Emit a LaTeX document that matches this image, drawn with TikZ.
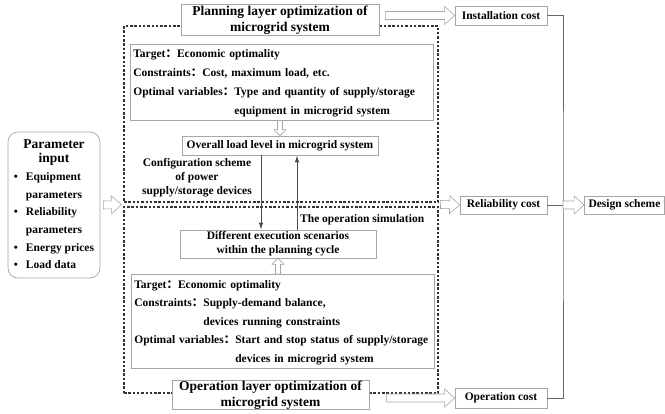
\documentclass[tikz,border=0pt]{standalone}
\usepackage{fontspec}
\setmainfont{Liberation Serif}
\newfontfamily\cjk{Noto Sans CJK SC}
\usetikzlibrary{calc,arrows.meta}
\newcommand{\fcolon}{{\cjk ：}}
\newcommand{\titlesize}{\fontsize{13.5}{16.5}\selectfont}
\def\ahshaft{4pt}\def\ahhead{9pt}\def\ahlen{10pt}

\tikzset{
  box/.style={draw=gray!70, line width=0.7pt, fill=white, inner sep=0pt,
    font=\bfseries\fontsize{11.5}{14}\selectfont, align=center},
  bigbox/.style={box, font=\bfseries\titlesize},
  infobox/.style={box, inner xsep=3pt, inner ysep=0pt, text width=297pt, align=left},
  dashbox/.style={draw=black!80, line width=1.1pt, dash pattern=on 2.5pt off 1.8pt},
  txt/.style={font=\bfseries\fontsize{11.5}{14}\selectfont, align=center, inner sep=0pt},
  flow/.style={draw=black!70, line width=0.9pt, -{Latex[length=7pt,width=4.5pt]}},
  busline/.style={draw=black!60, line width=0.6pt},
  hollow/.style={draw=gray!70, fill=white, line width=0.6pt, to path={
    ($(\tikztotarget)!\ahlen!(\tikztostart)$) coordinate (hb)
    ($(\tikztostart)!\ahshaft!90:(\tikztotarget)$)
    -- ($(hb)!\ahshaft!90:(\tikztotarget)$)
    -- ($(hb)!\ahhead!90:(\tikztotarget)$)
    -- (\tikztotarget)
    -- ($(hb)!\ahhead!-90:(\tikztotarget)$)
    -- ($(hb)!\ahshaft!-90:(\tikztotarget)$)
    -- ($(\tikztostart)!\ahshaft!-90:(\tikztotarget)$) -- cycle}},
  smallhead/.code={\def\ahshaft{2.5pt}\def\ahhead{6pt}\def\ahlen{6pt}}
}

\begin{document}
\begin{tikzpicture}[x=1pt, y=-1pt]
\useasboundingbox (0,0) rectangle (665,413);

% the two optimization layers
\node[dashbox, minimum width=314pt, minimum height=176pt] (plan) at (281,114) {};
\node[dashbox, minimum width=314pt, minimum height=186pt] (op) at (281,300) {};
\node[bigbox, minimum width=198pt, minimum height=31pt] (ptitle) at (280,20)
  {Planning layer optimization of\\microgrid system};
\node[bigbox, minimum width=197pt, minimum height=28pt] (otitle) at (270.5,395)
  {Operation layer optimization of\\microgrid system};

% planning layer
\node[infobox, anchor=north west, minimum height=76pt] (pinfo) at (130,44)
  {\def\arraystretch{1.36}\begin{tabular}{@{}l@{}}
   Target\fcolon Economic optimality\\
   Constraints\fcolon Cost, maximum load, etc.\\
   Optimal variables\fcolon\begin{tabular}[t]{@{}l@{}}Type and quantity of supply/storage\\
     equipment in microgrid system\end{tabular}
   \end{tabular}};
\node[box, minimum width=196pt, minimum height=19pt] (load) at (280,145.5)
  {Overall load level in microgrid system};
\node[txt] (config) at (197,178) {Configuration scheme\\of power\\supply/storage devices};

% operation layer
\node[box, minimum width=196pt, minimum height=28pt] (diff) at (278,244)
  {Different execution scenarios\\within the planning cycle};
\node[txt, anchor=west] (sim) at (300,220) {The operation simulation};
\node[infobox, anchor=north west, minimum height=94pt] (opinfo) at (131,274)
  {\def\arraystretch{1.32}\begin{tabular}{@{}l@{}}
   Target\fcolon Economic optimality\\
   Constraints\fcolon\begin{tabular}[t]{@{}l@{}}Supply-demand balance,\\
     devices running constraints\end{tabular}\\
   Optimal variables\fcolon\begin{tabular}[t]{@{}l@{}}Start and stop status of supply/storage\\
     devices in microgrid system\end{tabular}
   \end{tabular}};

% inputs and costs
\node[box, rounded corners=10pt, minimum width=92pt, minimum height=146pt] (param) at (54,205)
  {\def\arraystretch{1.26}\begin{tabular}{@{}c@{\hspace{8pt}}l@{}}
   \multicolumn{2}{c}{\titlesize Parameter}\\[-3pt]
   \multicolumn{2}{c}{\titlesize input}\\
   \textbullet & Equipment\\ & parameters\\
   \textbullet & Reliability\\ & parameters\\
   \textbullet & Energy prices\\
   \textbullet & Load data
   \end{tabular}};
\node[box, minimum width=92pt, minimum height=19pt] (inst) at (501,15.5) {Installation cost};
\node[box, minimum width=87pt, minimum height=18pt] (rel) at (503.5,205) {Reliability cost};
\node[box, minimum width=92pt, minimum height=20pt] (opc) at (501,398) {Operation cost};
\node[box, minimum width=80pt, minimum height=18pt] (design) at (624.5,205) {Design scheme};

% arrows between the layers
\coordinate (dn) at ($(load.south)+(-19,0)$);
\coordinate (up) at ($(diff.north)+(19,0)$);
\draw[flow] (dn) -- (dn |- diff.north);
\draw[flow] (up) -- (up |- load.south);

\coordinate (bus) at (563,205);
\draw[busline] (inst.east) -| (bus) |- (opc.east);
\draw[busline] (rel.east) -- (bus);

% hollow arrows
\coordinate (a1) at ($(ptitle.east |- inst.west)+(6,0)$);
\coordinate (gapl) at ($(plan.south west)!0.5!(op.north west)$);
\coordinate (a2) at ($(param.east)+(3,0)$);
\coordinate (a2e) at ($(gapl)+(-2,0)$);
\coordinate (gapr) at ($(plan.south east)!0.5!(op.north east)$);
\coordinate (a3) at ($(gapr)+(2,0)$);
\coordinate (a4) at ($(otitle.east |- opc.west)+(17,0)$);
\coordinate (s1) at (pinfo.south -| load.north);
\coordinate (s1e) at (load.north);
\coordinate (s2) at (opinfo.north -| diff.south);
\coordinate (s2e) at (diff.south);
\draw[hollow] (a1) to (inst.west);
\draw[hollow] (a2) to (a2e);
\draw[hollow] (a3) to (rel.west);
\draw[hollow] (a4) to (opc.west);
\draw[hollow] (bus) to (design.west);
\draw[hollow, smallhead] (s1) to (s1e);
\draw[hollow, smallhead] (s2) to (s2e);
\end{tikzpicture}
\end{document}
